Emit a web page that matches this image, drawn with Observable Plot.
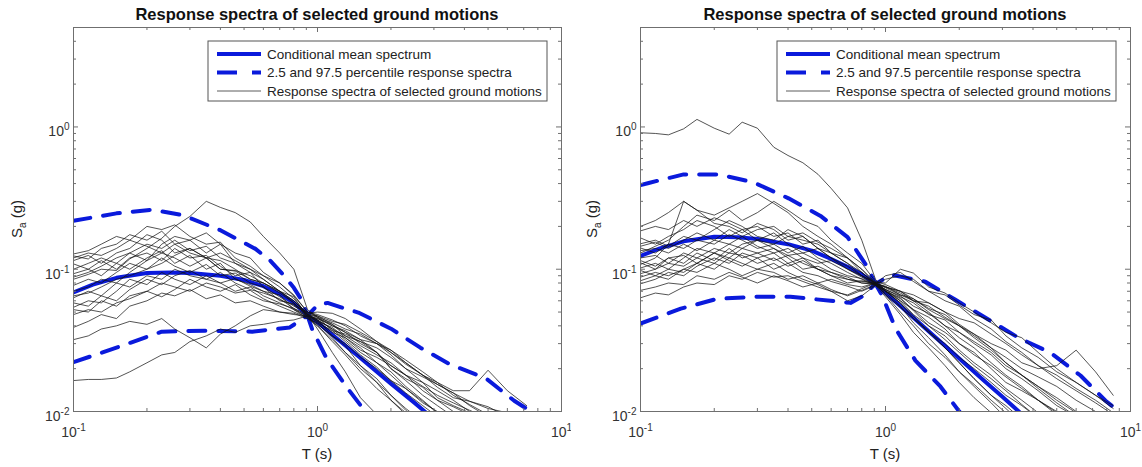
<!DOCTYPE html>
<html><head><meta charset="utf-8">
<script src="https://cdn.jsdelivr.net/npm/d3@7"></script>
<script src="https://cdn.jsdelivr.net/npm/@observablehq/plot@0.6"></script>
<style>
body{margin:0;background:#fff;}
#wrap{display:flex;width:1142px;height:467px;overflow:hidden;}
svg text{font-family:"Liberation Sans",Arial,Helvetica,sans-serif;}
</style></head><body><div id="wrap"></div>
<script>
// ---------- data ----------
const titleText = "Response spectra of selected ground motions";
const xLabelText = "T (s)";
const legendLabels = ["Conditional mean spectrum", "2.5 and 97.5 percentile response spectra", "Response spectra of selected ground motions"];
const xMajorTicks = [0.1, 1, 10];
const yMajorTicks = [0.01, 0.1, 1];

const periods = [0.1,0.115,0.13,0.15,0.17,0.2,0.23,0.26,0.3,0.35,0.4,0.46,0.53,0.6,0.7,0.8,0.91,1.0,1.15,1.3,1.5,1.75,2.0,2.3,2.7,3.1,3.6,4.2,5.0,6.0,7.2,8.5];

// left panel
const leftCmsT  = [0.1,0.12,0.15,0.2,0.25,0.3,0.4,0.5,0.6,0.7,0.8,0.91,1.0,1.2,1.5,2.0,2.5,3.0,3.5];
const leftCmsSa = [0.0687,0.078,0.087,0.094,0.095,0.094,0.09,0.084,0.076,0.067,0.058,0.0472,0.0424,0.0326,0.0238,0.0157,0.0115,0.0088,0.0071];
const leftHiT  = [0.1,0.15,0.21,0.28,0.4,0.557,0.64,0.73,0.8,0.86,0.91,1.0,1.1,1.25,1.47,2.0,2.64,3.5,4.9,6.4,7.5,8.5];
const leftHiSa = [0.219,0.247,0.262,0.24,0.188,0.139,0.115,0.09,0.074,0.061,0.0472,0.056,0.058,0.054,0.0496,0.0382,0.0281,0.0214,0.0171,0.0119,0.01,0.0085];
const leftLoT  = [0.1,0.15,0.23,0.35,0.54,0.77,0.91,0.95,1.09,1.33,1.57,1.8];
const leftLoSa = [0.0222,0.0281,0.0364,0.037,0.0364,0.039,0.0472,0.038,0.0236,0.0145,0.01,0.0075];
const leftSpectra = [
 [0.085,0.092,0.1,0.098,0.118,0.14,0.165,0.2,0.235,0.3,0.272,0.25,0.215,0.17,0.13,0.1,0.052, 0.046,0.037,0.031,0.025,0.0205,0.0165,0.0135,0.011,0.0092,0.0076,0.0062,0.005,0.004,0.003],
 [0.128,0.135,0.15,0.17,0.16,0.2,0.19,0.205,0.17,0.15,0.155,0.12,0.105,0.09,0.075,0.062,0.048, 0.044,0.034,0.029,0.021,0.017,0.013,0.0105,0.0085,0.007,0.0058,0.0046,0.0036,0.003,0.0025],
 [0.124,0.118,0.14,0.15,0.175,0.16,0.185,0.15,0.16,0.13,0.15,0.11,0.095,0.085,0.07,0.064,0.046, 0.043,0.036,0.033,0.028,0.022,0.019,0.015,0.012,0.0098,0.0082,0.0068,0.0055,0.0045,0.0036],
 [0.115,0.125,0.11,0.13,0.14,0.175,0.16,0.13,0.14,0.12,0.1,0.098,0.09,0.08,0.068,0.058,0.047, 0.045,0.04,0.036,0.03,0.026,0.021,0.018,0.016,0.0125,0.011,0.0098,0.0083,0.007,0.0058],
 [0.109,0.1,0.115,0.1,0.12,0.13,0.115,0.14,0.12,0.125,0.105,0.09,0.095,0.075,0.064,0.055,0.049, 0.05,0.049,0.045,0.038,0.031,0.027,0.022,0.018,0.0155,0.0135,0.011,0.0092,0.0076,0.0063],
 [0.093,0.1,0.09,0.11,0.1,0.12,0.135,0.11,0.125,0.1,0.11,0.085,0.078,0.07,0.066,0.052,0.045, 0.04,0.032,0.026,0.021,0.016,0.013,0.0102,0.0082,0.0066,0.0053,0.0043,0.0034,0.0027,0.0021],
 [0.077,0.085,0.08,0.095,0.11,0.1,0.12,0.105,0.095,0.108,0.09,0.094,0.08,0.075,0.06,0.057,0.048, 0.047,0.041,0.034,0.031,0.026,0.02,0.017,0.0148,0.012,0.0108,0.0095,0.008,0.0066,0.0055],
 [0.063,0.07,0.065,0.08,0.075,0.09,0.085,0.1,0.09,0.085,0.095,0.08,0.072,0.068,0.062,0.053,0.046, 0.041,0.034,0.03,0.024,0.02,0.0165,0.0145,0.0115,0.01,0.0088,0.0078,0.0065,0.0055,0.0046],
 [0.058,0.055,0.065,0.06,0.072,0.085,0.078,0.09,0.098,0.085,0.08,0.086,0.076,0.07,0.061,0.056,0.05, 0.048,0.044,0.04,0.034,0.03,0.027,0.023,0.019,0.016,0.014,0.014,0.0195,0.014,0.011],
 [0.054,0.06,0.058,0.07,0.085,0.078,0.095,0.085,0.078,0.09,0.08,0.07,0.075,0.065,0.058,0.052,0.047, 0.043,0.039,0.033,0.027,0.024,0.021,0.018,0.015,0.013,0.0115,0.0102,0.009,0.0078,0.0068],
 [0.052,0.05,0.06,0.055,0.065,0.07,0.08,0.075,0.07,0.08,0.075,0.068,0.071,0.062,0.055,0.05,0.046, 0.04,0.031,0.025,0.019,0.0145,0.012,0.0095,0.0075,0.006,0.0048,0.0039,0.003,0.0024,0.002],
 [0.039,0.043,0.048,0.045,0.055,0.06,0.068,0.065,0.072,0.062,0.066,0.058,0.06,0.055,0.05,0.049,0.045, 0.042,0.037,0.035,0.031,0.028,0.024,0.02,0.0175,0.0155,0.0135,0.0118,0.0108,0.0092,0.0078],
 [0.032,0.034,0.038,0.04,0.043,0.041,0.045,0.038,0.033,0.028,0.035,0.04,0.047,0.052,0.05,0.048,0.047, 0.044,0.038,0.034,0.029,0.025,0.022,0.018,0.014,0.012,0.01,0.0085,0.0072,0.006,0.005],
 [0.0165,0.0168,0.0168,0.0172,0.019,0.022,0.025,0.026,0.031,0.034,0.038,0.036,0.04,0.041,0.043,0.044,0.047, 0.045,0.041,0.036,0.032,0.026,0.02,0.0165,0.013,0.011,0.0092,0.0078,0.0065,0.0054,0.0045],
 [0.07,0.075,0.085,0.08,0.095,0.115,0.13,0.12,0.105,0.12,0.1,0.097,0.085,0.08,0.07,0.06,0.049, 0.042,0.033,0.026,0.02,0.016,0.012,0.0098,0.0079,0.0064,0.0052,0.0042,0.0034,0.0028,0.0022],
 [0.1,0.11,0.12,0.11,0.13,0.15,0.14,0.16,0.135,0.145,0.12,0.11,0.1,0.085,0.07,0.06,0.048, 0.038,0.026,0.019,0.0125,0.0095,0.0075,0.006,0.0048,0.004,0.0032,0.0026,0.002,0.0016,0.0013],
 [0.065,0.068,0.075,0.085,0.09,0.1,0.11,0.125,0.14,0.12,0.13,0.115,0.1,0.09,0.08,0.066,0.05, 0.047,0.043,0.041,0.036,0.031,0.026,0.022,0.018,0.016,0.013,0.0112,0.0095,0.008,0.0068],
 [0.088,0.095,0.105,0.12,0.13,0.115,0.15,0.17,0.16,0.18,0.15,0.13,0.12,0.095,0.08,0.065,0.05, 0.046,0.04,0.037,0.032,0.03,0.025,0.02,0.016,0.014,0.012,0.01,0.0085,0.007,0.006],
 [0.12,0.13,0.125,0.14,0.16,0.145,0.13,0.15,0.13,0.12,0.115,0.1,0.085,0.08,0.07,0.058,0.047, 0.044,0.038,0.032,0.026,0.022,0.018,0.0145,0.0118,0.0098,0.0082,0.0068,0.0056,0.0046,0.0038],
 [0.048,0.052,0.05,0.058,0.062,0.07,0.064,0.072,0.085,0.075,0.07,0.078,0.066,0.06,0.057,0.053,0.048, 0.046,0.042,0.038,0.035,0.03,0.026,0.0215,0.018,0.0148,0.0125,0.0118,0.0105,0.0098,0.0085]
];

// right panel
const rightCmsT  = [0.1,0.12,0.15,0.2,0.25,0.3,0.4,0.5,0.6,0.7,0.8,0.91,1.0,1.2,1.5,2.0,2.5,3.0,3.5,4.0];
const rightCmsSa = [0.124,0.14,0.157,0.169,0.168,0.163,0.15,0.135,0.118,0.104,0.092,0.079,0.0684,0.0517,0.0367,0.0236,0.0167,0.0127,0.01,0.0081];
const rightHiT  = [0.1,0.108,0.15,0.208,0.289,0.402,0.543,0.7,0.836,0.91,1.06,1.455,1.93,2.63,3.49,4.71,6.25,7.91,8.85,10];
const rightHiSa = [0.39,0.404,0.464,0.464,0.408,0.315,0.237,0.168,0.106,0.079,0.0914,0.0817,0.061,0.0443,0.033,0.0259,0.0179,0.0119,0.0102,0.0085];
const rightLoT  = [0.1,0.146,0.206,0.294,0.409,0.597,0.72,0.8,0.91,0.97,1.1,1.325,1.675,2.0,2.2];
const rightLoSa = [0.0415,0.0528,0.062,0.064,0.064,0.06,0.058,0.064,0.079,0.065,0.0382,0.0228,0.015,0.01,0.0085];
const rightSpectra = [
 [0.91,0.9,0.88,0.97,1.13,0.98,0.89,1.08,0.98,0.72,0.63,0.56,0.465,0.37,0.27,0.16,0.085, 0.07,0.058,0.045,0.037,0.028,0.022,0.017,0.013,0.011,0.0088,0.007,0.0055,0.0045,0.0036,0.003],
 [0.2,0.22,0.25,0.3,0.26,0.24,0.27,0.3,0.34,0.29,0.25,0.2,0.17,0.15,0.12,0.1,0.08, 0.07,0.058,0.047,0.036,0.028,0.022,0.017,0.013,0.0105,0.0083,0.0066,0.0052,0.0041,0.0032,0.0025],
 [0.186,0.2,0.19,0.22,0.2,0.23,0.21,0.19,0.2,0.17,0.18,0.15,0.16,0.13,0.11,0.095,0.079, 0.085,0.09,0.085,0.07,0.06,0.055,0.045,0.038,0.031,0.026,0.021,0.017,0.014,0.0115,0.0095],
 [0.166,0.15,0.17,0.19,0.22,0.2,0.17,0.19,0.16,0.18,0.15,0.13,0.14,0.12,0.1,0.088,0.078, 0.072,0.065,0.055,0.049,0.04,0.036,0.03,0.025,0.02,0.017,0.014,0.011,0.0092,0.0075,0.0062],
 [0.151,0.16,0.145,0.17,0.16,0.19,0.22,0.2,0.17,0.16,0.19,0.17,0.14,0.12,0.105,0.09,0.08, 0.075,0.07,0.062,0.052,0.045,0.04,0.034,0.028,0.022,0.018,0.0145,0.0115,0.0092,0.0075,0.006],
 [0.141,0.13,0.15,0.14,0.16,0.15,0.175,0.16,0.14,0.15,0.13,0.145,0.12,0.11,0.095,0.085,0.077, 0.068,0.055,0.042,0.033,0.025,0.019,0.015,0.0115,0.009,0.0072,0.0058,0.0046,0.0036,0.0028,0.0022],
 [0.135,0.14,0.13,0.15,0.135,0.16,0.15,0.17,0.145,0.13,0.14,0.12,0.11,0.115,0.1,0.09,0.081, 0.08,0.1,0.094,0.075,0.068,0.058,0.05,0.042,0.036,0.033,0.026,0.02,0.016,0.013,0.0105],
 [0.12,0.125,0.11,0.13,0.12,0.14,0.13,0.15,0.16,0.14,0.125,0.13,0.115,0.1,0.09,0.086,0.078, 0.07,0.06,0.052,0.046,0.038,0.03,0.026,0.02,0.016,0.014,0.012,0.0095,0.0075,0.006,0.0048],
 [0.111,0.1,0.12,0.11,0.13,0.115,0.14,0.12,0.13,0.14,0.12,0.1,0.105,0.095,0.085,0.082,0.08, 0.074,0.066,0.06,0.058,0.05,0.041,0.035,0.03,0.027,0.022,0.02,0.021,0.027,0.019,0.013],
 [0.102,0.11,0.1,0.12,0.14,0.13,0.12,0.14,0.13,0.115,0.125,0.11,0.1,0.09,0.08,0.083,0.079, 0.066,0.05,0.04,0.03,0.024,0.019,0.0155,0.012,0.0098,0.0078,0.0062,0.005,0.004,0.0032,0.0026],
 [0.093,0.1,0.11,0.105,0.12,0.11,0.13,0.125,0.11,0.12,0.105,0.115,0.1,0.095,0.088,0.08,0.078, 0.07,0.062,0.052,0.042,0.036,0.03,0.025,0.021,0.0175,0.0145,0.012,0.01,0.0082,0.0068,0.0056],
 [0.083,0.09,0.085,0.1,0.095,0.11,0.1,0.09,0.1,0.095,0.085,0.09,0.08,0.085,0.078,0.075,0.08, 0.075,0.068,0.06,0.055,0.046,0.04,0.035,0.028,0.024,0.02,0.0175,0.015,0.012,0.01,0.0085],
 [0.079,0.085,0.095,0.09,0.105,0.12,0.11,0.13,0.12,0.1,0.11,0.095,0.09,0.082,0.076,0.07,0.077, 0.064,0.048,0.036,0.028,0.021,0.016,0.0125,0.0098,0.0078,0.0062,0.005,0.004,0.0032,0.0025,0.002],
 [0.071,0.075,0.08,0.078,0.09,0.085,0.095,0.088,0.08,0.09,0.083,0.075,0.08,0.072,0.065,0.071,0.078, 0.072,0.064,0.058,0.048,0.044,0.036,0.031,0.026,0.021,0.018,0.015,0.0125,0.01,0.0082,0.0068],
 [0.063,0.068,0.066,0.075,0.08,0.078,0.09,0.085,0.095,0.088,0.09,0.082,0.075,0.07,0.066,0.073,0.08, 0.066,0.054,0.045,0.036,0.03,0.024,0.02,0.016,0.013,0.011,0.009,0.0072,0.0058,0.0046,0.0037],
 [0.13,0.145,0.16,0.2,0.24,0.22,0.26,0.22,0.25,0.3,0.26,0.22,0.2,0.16,0.13,0.11,0.082, 0.078,0.07,0.06,0.05,0.04,0.033,0.028,0.022,0.018,0.015,0.012,0.0098,0.008,0.0065,0.0052],
 [0.108,0.12,0.15,0.3,0.26,0.21,0.2,0.18,0.21,0.19,0.16,0.17,0.14,0.13,0.11,0.09,0.079, 0.076,0.066,0.062,0.053,0.048,0.04,0.033,0.027,0.022,0.018,0.015,0.012,0.0098,0.008,0.0065],
 [0.098,0.09,0.1,0.095,0.11,0.13,0.15,0.14,0.16,0.15,0.17,0.16,0.15,0.13,0.12,0.1,0.08, 0.072,0.06,0.048,0.04,0.032,0.026,0.021,0.017,0.014,0.0112,0.009,0.0072,0.0058,0.0046,0.0037],
 [0.145,0.155,0.14,0.16,0.18,0.16,0.19,0.17,0.19,0.2,0.17,0.18,0.155,0.14,0.12,0.095,0.079, 0.075,0.07,0.066,0.058,0.05,0.045,0.042,0.035,0.03,0.025,0.021,0.018,0.0145,0.012,0.0098],
 [0.088,0.095,0.09,0.1,0.11,0.1,0.12,0.11,0.1,0.11,0.095,0.085,0.078,0.07,0.06,0.065,0.077, 0.07,0.063,0.051,0.04,0.034,0.027,0.022,0.018,0.0145,0.012,0.0098,0.008,0.0064,0.0052,0.0042],
 [0.115,0.105,0.12,0.125,0.11,0.13,0.115,0.105,0.12,0.13,0.11,0.12,0.1,0.09,0.085,0.08,0.079, 0.09,0.095,0.082,0.07,0.066,0.056,0.048,0.044,0.034,0.028,0.024,0.019,0.016,0.013,0.011]
];

// ---------- drawing ----------
const BLUE = "#0a1adc";
const AXIS = "#6f6f6f";
const W = 571, H = 467, MT = 27, MB = 56;

function pairs(T, S) { return T.map((t, i) => ({T: t, Sa: S[i]})); }
function expLabel(d) { return "10^" + Math.round(Math.log10(d)); }

function panel({spectra, cmsT, cmsSa, hiT, hiSa, loT, loSa, ml, mr, ylabX}) {
  const fw = W - ml - mr, fh = H - MT - MB;
  const xAll = d3.scaleLog().domain([0.1, 10]).ticks();
  const yAll = d3.scaleLog().domain([0.01, 5]).ticks();
  const near = (a, b) => Math.abs(a - b) < 1e-9 * Math.max(a, b);
  const xMinor = xAll.filter(t => !xMajorTicks.some(m => near(m, t)));
  const yMinor = yAll.filter(t => !yMajorTicks.some(m => near(m, t)));
  const rows = spectra.flatMap((vals, k) => vals.map((v, i) => ({T: periods[i], Sa: v, k})));

  const svg = Plot.plot({
    width: W, height: H, marginLeft: ml, marginRight: mr, marginTop: MT, marginBottom: MB,
    x: {type: "log", domain: [0.1, 10], label: null},
    y: {type: "log", domain: [0.01, 5], label: null},
    style: {fontFamily: "Liberation Sans, Arial, sans-serif", fontSize: "14px", background: "white", overflow: "visible"},
    marks: [
      Plot.line(pairs(cmsT, cmsSa), {x: "T", y: "Sa", stroke: BLUE, strokeWidth: 4, clip: true}),
      Plot.line(pairs(hiT, hiSa), {x: "T", y: "Sa", stroke: BLUE, strokeWidth: 4, strokeDasharray: "17,13", clip: true}),
      Plot.line(pairs(loT, loSa), {x: "T", y: "Sa", stroke: BLUE, strokeWidth: 4, strokeDasharray: "17,13", clip: true}),
      Plot.line(rows, {x: "T", y: "Sa", z: "k", stroke: "#111", strokeWidth: 0.8, strokeOpacity: 0.9, clip: true}),
      Plot.frame({stroke: AXIS}),
      Plot.ruleX(xMajorTicks, {stroke: AXIS, insetTop: fh - 5}),
      Plot.ruleX(xMajorTicks, {stroke: AXIS, insetBottom: fh - 5}),
      Plot.ruleX(xMinor, {stroke: AXIS, insetTop: fh - 3}),
      Plot.ruleX(xMinor, {stroke: AXIS, insetBottom: fh - 3}),
      Plot.ruleY(yMajorTicks, {stroke: AXIS, insetRight: fw - 5}),
      Plot.ruleY(yMajorTicks, {stroke: AXIS, insetLeft: fw - 5}),
      Plot.ruleY(yMinor, {stroke: AXIS, insetRight: fw - 3}),
      Plot.ruleY(yMinor, {stroke: AXIS, insetLeft: fw - 3}),
      Plot.axisX({ticks: xMajorTicks, tickSize: 0, tickPadding: 16, tickFormat: expLabel, fontSize: 14, fill: "#333", label: null}),
      Plot.axisY({ticks: yMajorTicks, tickSize: 0, tickPadding: 4, dy: 5, tickFormat: expLabel, fontSize: 14, fill: "#333", label: null})
    ]
  });

  const s = d3.select(svg);
  s.selectAll("text").each(function() {
    const m = /^10\^(-?\d+)$/.exec(this.textContent);
    if (!m) return;
    const el = d3.select(this);
    el.text("10");
    el.append("tspan").attr("dy", -6).attr("font-size", 10).text(m[1]);
  });

  const cx = ml + fw / 2;
  s.append("text").attr("x", cx).attr("y", 20).attr("text-anchor", "middle")
    .attr("font-weight", "bold").attr("font-size", 16.5).attr("fill", "#111").text(titleText);
  s.append("text").attr("x", cx).attr("y", 459).attr("text-anchor", "middle")
    .attr("font-size", 15).attr("fill", "#222").text(xLabelText);
  const yl = s.append("text").attr("transform", `translate(${ylabX},${MT + fh / 2}) rotate(-90)`)
    .attr("text-anchor", "middle").attr("font-size", 15).attr("fill", "#222");
  yl.append("tspan").text("S");
  yl.append("tspan").attr("dy", 4).attr("font-size", 10).text("a");
  yl.append("tspan").attr("dy", -4).text(" (g)");

  // legend
  const lw = 339, lh = 60;
  const lx = W - mr - 14 - lw, ly = MT + 14;
  const g = s.append("g").attr("text-anchor", "start");
  g.append("rect").attr("x", lx).attr("y", ly).attr("width", lw).attr("height", lh)
    .attr("fill", "white").attr("stroke", "#555").attr("stroke-width", 1);
  const styles = [
    {stroke: BLUE, w: 4, dash: null},
    {stroke: BLUE, w: 4, dash: "20,15"},
    {stroke: "#333", w: 0.8, dash: null}
  ];
  legendLabels.forEach((lab, i) => {
    const yy = ly + 13 + i * 18.5;
    const ln = g.append("line").attr("x1", lx + 9).attr("x2", lx + 53).attr("y1", yy).attr("y2", yy)
      .attr("stroke", styles[i].stroke).attr("stroke-width", styles[i].w);
    if (styles[i].dash) ln.attr("stroke-dasharray", styles[i].dash);
    g.append("text").attr("x", lx + 59).attr("y", yy + 4.8).attr("text-anchor", "start")
      .attr("font-size", 13.5).attr("fill", "#222").text(lab);
  });
  return svg;
}

const wrap = document.getElementById("wrap");
wrap.appendChild(panel({spectra: leftSpectra, cmsT: leftCmsT, cmsSa: leftCmsSa, hiT: leftHiT, hiSa: leftHiSa, loT: leftLoT, loSa: leftLoSa, ml: 73, mr: 10, ylabX: 22}));
wrap.appendChild(panel({spectra: rightSpectra, cmsT: rightCmsT, cmsSa: rightCmsSa, hiT: rightHiT, hiSa: rightHiSa, loT: rightLoT, loSa: rightLoSa, ml: 69, mr: 12, ylabX: 26}));
</script>
</body></html>
